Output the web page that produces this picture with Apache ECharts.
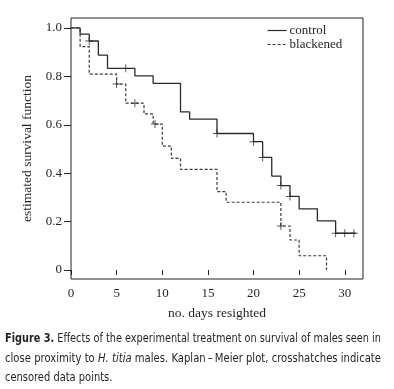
<!DOCTYPE html>
<html>
<head>
<meta charset="utf-8">
<script src="https://cdn.jsdelivr.net/npm/echarts@6/dist/echarts.min.js"></script>
<style>
html,body{margin:0;padding:0;background:#fff;}
#chart{width:394px;height:389px;}
</style>
</head>
<body>
<div id="chart"></div>
<script>
// ---- data ----
const dayTicks = [0, 5, 10, 15, 20, 25, 30];
const survTicks = [0, 0.2, 0.4, 0.6, 0.8, 1.0];

const controlTimes = [0, 1, 2, 3, 4, 7, 9, 12, 13, 16, 20, 21, 22, 23, 24, 25, 27, 29, 31.2];
const controlSurv  = [1.0, 0.974, 0.946, 0.888, 0.833, 0.802, 0.771, 0.653, 0.623, 0.564, 0.530, 0.465, 0.388, 0.349, 0.304, 0.253, 0.203, 0.152, 0.152];
const controlCensorTimes = [2, 6, 16, 20, 21, 23, 24, 29, 30, 31];
const controlCensorSurv  = [0.946, 0.833, 0.564, 0.530, 0.465, 0.349, 0.304, 0.152, 0.152, 0.152];

const blackTimes = [0, 1, 2, 5, 6, 8, 9, 10, 11, 12, 16, 17, 23, 24, 25, 28];
const blackSurv  = [1.0, 0.923, 0.809, 0.768, 0.689, 0.645, 0.603, 0.512, 0.461, 0.416, 0.324, 0.280, 0.182, 0.124, 0.059, 0];
const blackCensorTimes = [5, 7, 9.2, 23];
const blackCensorSurv  = [0.768, 0.689, 0.603, 0.182];

const seriesNames = ['control', 'blackened'];
const xTitle = 'no. days resighted';
const yTitle = 'estimated survival function';
const captionLines = [
  [{t: 'Figure 3.', s: 'b'}, {t: ' Effects of the experimental treatment on survival of males seen in', s: 'n'}],
  [{t: 'close proximity to ', s: 'n'}, {t: 'H. titia', s: 'i'}, {t: ' males. Kaplan\u2009\u2013\u2009Meier plot, crosshatches indicate', s: 'n'}],
  [{t: 'censored data points.', s: 'n'}]
];

// ---- helpers ----
const zip = (a, b) => a.map((v, i) => [v, b[i]]);
const serif = "'Liberation Serif', 'Times New Roman', serif";
const capFont = "'Liberation Sans Narrow', 'DejaVu Sans Condensed', 'Liberation Sans', sans-serif";
const ink = '#231f20';
const plusPath = 'path://M-0.12,-1 L0.12,-1 L0.12,-0.12 L1,-0.12 L1,0.12 L0.12,0.12 L0.12,1 L-0.12,1 L-0.12,0.12 L-1,0.12 L-1,-0.12 L-0.12,-0.12 Z';

// caption measurement for justification
const capSize = 13;
const ctx = document.createElement('canvas').getContext('2d');
function fontFor(s) {
  if (s === 'b') return 'bold ' + capSize + 'px ' + capFont;
  if (s === 'i') return 'italic ' + capSize + 'px ' + capFont;
  return capSize + 'px ' + capFont;
}
function lineWidth(parts) {
  let w = 0;
  parts.forEach(p => { ctx.font = fontFor(p.s); w += ctx.measureText(p.t).width; });
  return w;
}
const capLeft = 5, capRight = 381;
const capWidths = captionLines.map(lineWidth);
const scale1 = (capRight - capLeft) / capWidths[0];
const scale2 = (capRight - capLeft) / capWidths[1];
const capScales = [scale1, scale2, (scale1 + scale2) / 2];
const capY = [339, 359, 378];
const rich = {
  b: {fontFamily: capFont, fontWeight: 'bold', fontSize: capSize, fill: ink},
  i: {fontFamily: capFont, fontStyle: 'italic', fontSize: capSize, fill: ink},
  n: {fontFamily: capFont, fontSize: capSize, fill: ink}
};
const captionGraphics = captionLines.map((parts, i) => ({
  type: 'text',
  x: capLeft,
  y: capY[i],
  scaleX: capScales[i],
  style: {
    text: parts.map(p => '{' + p.s + '|' + p.t + '}').join(''),
    rich: rich,
    verticalAlign: 'middle',
    align: 'left'
  }
}));

const chart = echarts.init(document.getElementById('chart'), null, {renderer: 'canvas'});
chart.setOption({
  animation: false,
  backgroundColor: '#fff',
  grid: {left: 71, top: 18, right: 31, bottom: 110, show: true, borderColor: '#222', borderWidth: 1, backgroundColor: 'transparent'},
  legend: {
    orient: 'vertical',
    left: 267,
    top: 24,
    itemWidth: 19,
    itemHeight: 14,
    itemGap: 1,
    padding: 0,
    itemStyle: {color: 'rgba(0,0,0,0)', borderColor: 'rgba(0,0,0,0)', borderWidth: 0},
    lineStyle: {width: 1.2},
    textStyle: {fontFamily: serif, fontSize: 13, color: ink, padding: [0, 0, 0, -2]},
    data: seriesNames
  },
  xAxis: {
    type: 'value', min: 0, max: 32,
    name: xTitle, nameLocation: 'middle', nameGap: 27,
    nameTextStyle: {fontFamily: serif, fontSize: 13.5, color: ink},
    axisLine: {show: false},
    splitLine: {show: false},
    axisTick: {show: true, length: 5, inside: false, customValues: dayTicks, lineStyle: {color: '#222'}},
    axisLabel: {customValues: dayTicks, fontFamily: serif, fontSize: 13, color: ink, margin: 8}
  },
  yAxis: {
    type: 'value', min: -0.037, max: 1.041,
    name: yTitle, nameLocation: 'middle', nameGap: 29, nameRotate: 90,
    nameTextStyle: {fontFamily: serif, fontSize: 13.5, color: ink},
    axisLine: {show: false},
    splitLine: {show: false},
    axisTick: {show: true, length: 7, inside: false, customValues: survTicks, lineStyle: {color: '#222'}},
    axisLabel: {customValues: survTicks, fontFamily: serif, fontSize: 13, color: ink, margin: 9,
      formatter: v => (Math.abs(v) < 1e-9 ? '0' : v.toFixed(1))}
  },
  series: [
    {name: seriesNames[0], type: 'line', step: 'end', symbol: 'none', data: zip(controlTimes, controlSurv),
      lineStyle: {color: '#2a2a2a', width: 1.3, type: 'solid'}, itemStyle: {color: '#2a2a2a'}},
    {name: seriesNames[1], type: 'line', step: 'end', symbol: 'none', data: zip(blackTimes, blackSurv),
      lineStyle: {color: '#3a3a3a', width: 1.2, type: [3, 2]}, itemStyle: {color: '#3a3a3a'}},
    {name: 'control censored', type: 'scatter', symbol: plusPath, symbolSize: 8, data: zip(controlCensorTimes, controlCensorSurv),
      itemStyle: {color: '#2a2a2a'}, z: 3},
    {name: 'blackened censored', type: 'scatter', symbol: plusPath, symbolSize: 8, data: zip(blackCensorTimes, blackCensorSurv),
      itemStyle: {color: '#2a2a2a'}, z: 3}
  ],
  graphic: captionGraphics
});
</script>
</body>
</html>
